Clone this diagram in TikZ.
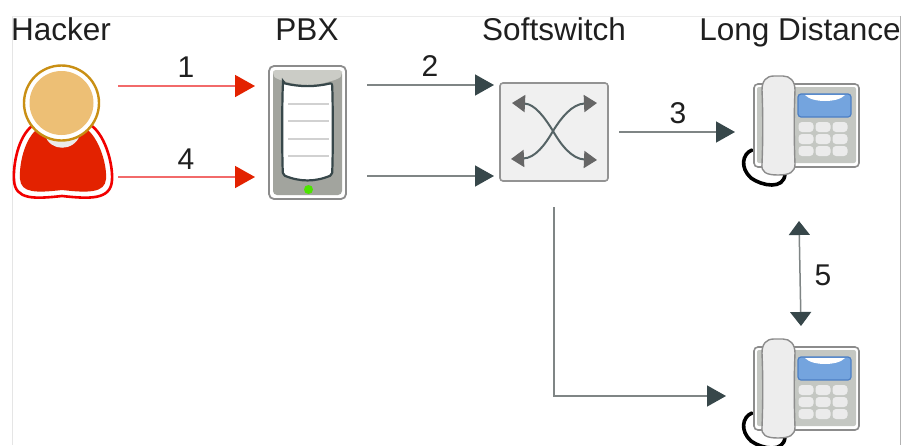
\documentclass[tikz,border=0pt]{standalone}
\usepackage{fontspec}
\setmainfont{Liberation Sans}
\usetikzlibrary{arrows.meta}
\definecolor{darkar}{HTML}{37474A}
\definecolor{redar}{HTML}{E32200}
\definecolor{redln}{HTML}{F26A6A}
\definecolor{grayln}{HTML}{7F8585}
\definecolor{screenblue}{HTML}{74A4DE}
\definecolor{screenedge}{HTML}{4C7FC4}
\definecolor{headfill}{HTML}{EDBF75}
\definecolor{headedge}{HTML}{C98F14}
\definecolor{plategray}{HTML}{C4C7C2}
\definecolor{pbxgray}{HTML}{A2A49E}
\definecolor{pbxcap}{HTML}{CBCCC6}
\tikzset{
  x=1pt,y=-1pt,
  lbl/.style={font=\fontsize{31.5}{34}\selectfont,text=black!88,inner sep=0pt,anchor=base},
  num/.style={font=\fontsize{30}{34}\selectfont,text=black!88,inner sep=0pt},
  redarrow/.style={draw=redln,line width=1.6pt,-{Triangle[length=20pt,width=22pt,color=redar]}},
  darkarrow/.style={draw=grayln,line width=1.5pt,-{Triangle[length=19pt,width=21pt,color=darkar]}},
  swarrow/.style={draw=darkar!85,line width=2pt,-{Triangle[length=13pt,width=17pt,color=black!60]}},
  fitem/.style={inner sep=0pt,minimum size=0pt},
  pics/deskphone/.style={code={
    \draw[black,line width=3.6pt,line cap=round] (-2,66) .. controls (-12,70) and (-14,84) .. (-3,94) .. controls (8,102) and (30,106) .. (31,90);
    \draw[draw=gray!90,line width=1.6pt,fill=white,rounded corners=4pt] (0,0) rectangle (105,83);
    \fill[plategray,rounded corners=2pt] (3,3) rectangle (102,79);
    \draw[draw=screenedge,line width=1.2pt,fill=screenblue,rounded corners=3pt] (44,10) rectangle (97,33);
    \fill[white] (51,11) .. controls (58,19) and (84,19) .. (91,11) -- cycle;
    \foreach \kx in {52,69,86} \foreach \ky in {43,55,67}
      \fill[black!8,rounded corners=3.5pt] (\kx-7.5,\ky-5) rectangle (\kx+7.5,\ky+5);
    \draw[draw=gray!90,line width=1.4pt,fill=black!7] (20,-8) .. controls (12,-8) and (8,-3) .. (8,6) .. controls (9,30) and (9,55) .. (8,80) .. controls (7,88) and (12,91) .. (24,91) .. controls (36,91) and (41,88) .. (41,80) .. controls (40,55) and (40,30) .. (41,6) .. controls (41,-3) and (36,-8) .. (29,-8) -- cycle;
  }}
}
\begin{document}
\begin{tikzpicture}
\useasboundingbox (0,0) rectangle (906,445);
\fill[white] (0,0) rectangle (906,445);
\draw[black!10,line width=.7pt] (12,16) -- (12,445);
\draw[black!8,line width=.7pt] (12,16) -- (900,16);
\draw[black!30,line width=.7pt] (900,16) -- (900,445);

% titles
\node[lbl] (thacker) at (61,40) {Hacker};
\node[lbl] (tpbx) at (307,40) {PBX};
\node[lbl] (tsoft) at (554,40) {Softswitch};
\node[lbl] (tld) at (800,40) {Long Distance};

% hacker icon
\draw[draw=red!95!black,line width=2.6pt,fill=white] (32,126) .. controls (18,137) and (13,165) .. (14,180) .. controls (15,200) and (34,199) .. (62,196) .. controls (90,199) and (111,200) .. (112,180) .. controls (113,165) and (106,137) .. (92,126) -- cycle;
\fill[redar] (36,130) .. controls (24,141) and (19,165) .. (20,179) .. controls (21,193) and (36,193) .. (62,190) .. controls (88,193) and (105,193) .. (106,179) .. controls (107,165) and (100,141) .. (88,130) -- cycle;
\fill[black!8] (45,135) .. controls (50,152) and (74,152) .. (80,135) -- cycle;
\draw[draw=headedge,line width=2.4pt,fill=white] (61.5,103) circle (37.5);
\fill[headfill] (61.5,103) circle (32);
\coordinate (hackerA) at (118,86);
\coordinate (hackerB) at (118,177);

% PBX icon
\node[fitem] (pbx) at (307.5,133) {};
\draw[draw=gray!90,line width=1.8pt,fill=white,rounded corners=5pt] (269,66) rectangle (346,199);
\fill[pbxgray,rounded corners=4pt] (273,70) rectangle (342,195);
\fill[pbxcap,rounded corners=3pt] (273,70) -- (342,70) -- (342,74) .. controls (340,78) and (335,80) .. (331,81) .. controls (315,86) and (300,86) .. (284,81) .. controls (280,80) and (275,78) .. (273,74) -- cycle;
\draw[draw=darkar,line width=2.2pt,fill=white,rounded corners=2pt] (283,83) .. controls (300,87) and (315,87) .. (332,83) .. controls (333,100) and (333,160) .. (332,175) .. controls (315,182) and (300,182) .. (283,175) .. controls (282,160) and (282,100) .. (283,83) -- cycle;
\foreach \yy in {104,121,139,156}
  \draw[black!18,line width=1.2pt] (288,\yy) -- (329,\yy);
\fill[green!85!black!70!yellow] (308.5,189.5) circle (4.5);

% softswitch icon
\node[fitem,minimum width=108pt,minimum height=98pt,draw=gray!85,line width=1.6pt,fill=black!6,rounded corners=3pt] (soft) at (554,132) {};
\coordinate (sw) at (553,131);
\coordinate (sa) at (512,103);
\coordinate (sb) at (597,103);
\coordinate (sc) at (511,159);
\coordinate (sd) at (597,160);
\draw[swarrow] (sw) .. controls (545,118) and (535,104) .. (sa);
\draw[swarrow] (sw) .. controls (561,118) and (572,104) .. (sb);
\draw[swarrow] (sw) .. controls (545,145) and (535,158) .. (sc);
\draw[swarrow] (sw) .. controls (561,145) and (572,159) .. (sd);

% phones
\pic at (754,84) {deskphone};
\pic at (754,347) {deskphone};

% connectors
\coordinate (p1) at (255,86);
\coordinate (p4) at (255,177);
\draw[redarrow] (hackerA) -- (p1);
\draw[redarrow] (hackerB) -- (p4);
\coordinate (pr1) at (367,85);
\coordinate (pr2) at (367,176);
\coordinate (s1) at (494,85);
\coordinate (s2) at (494,176);
\draw[darkarrow] (pr1) -- (s1);
\draw[darkarrow] (pr2) -- (s2);
\coordinate (so) at (619,132);
\coordinate (ph1) at (735,132);
\draw[darkarrow] (so) -- (ph1);
\coordinate (sdown) at (554,207);
\coordinate (ph2) at (726,396);
\draw[darkarrow] (sdown) |- (ph2);
\coordinate (pa) at (799,221);
\coordinate (pb) at (801,326);
\draw[draw=grayln,line width=1.5pt,{Triangle[length=14pt,width=21pt,color=darkar]}-{Triangle[length=14pt,width=21pt,color=darkar]}] (pa) -- (pb);

% numbers
\node[num] (n1) at (186,67) {1};
\node[num] (n4) at (186,159) {4};
\node[num] (n2) at (430,66) {2};
\node[num] (n3) at (678,113) {3};
\node[num] (n5) at (823,275) {5};
\end{tikzpicture}
\end{document}
